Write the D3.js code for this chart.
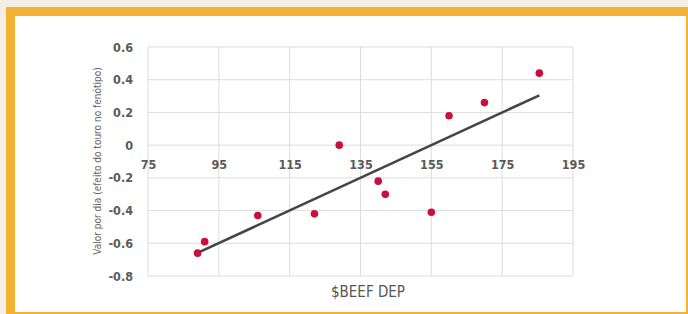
<html lang="pt">
<head>
<meta charset="utf-8">
<script src="https://d3js.org/d3.v7.min.js"></script>
<style>
  body { margin: 0; background: #f3efe7; }
  .tick text { font-family: "DejaVu Sans", sans-serif; font-stretch: condensed; font-weight: bold; font-size: 12.5px; fill: #5a5a5a; }
  .domain { display: none; }
</style>
</head>
<body>
<div id="graph"></div>
<script>

// pontos
var beefDep = [89, 91, 106, 122, 129, 140, 142, 155, 160, 170, 185.5]
var valorDia = [-0.66, -0.59, -0.43, -0.42, 0.0, -0.22, -0.30, -0.41, 0.18, 0.26, 0.44]
var xTicks = [75, 95, 115, 135, 155, 175, 195]
var yTicks = [-0.8, -0.6, -0.4, -0.2, 0, 0.2, 0.4, 0.6]

var W = 688, H = 314

var svg = d3.select('#graph').append('svg').attr('width', W).attr('height', H)

// moldura laranja
svg.append('rect').attr('x', 6).attr('y', 7).attr('width', W - 6).attr('height', H - 7).attr('fill', '#f3b233')
svg.append('rect').attr('x', 15).attr('y', 16).attr('width', 671).attr('height', 296).attr('fill', '#ffffff')

var xScale = d3.scaleLinear().domain([75, 195]).range([148, 573])
var yScale = d3.scaleLinear().domain([-0.8, 0.6]).range([276, 47])

var grid = svg.append('g')
grid.selectAll('.vline').data(xTicks).enter().append('line').attr('class', 'vline')
  .attr('x1', function(d){ return xScale(d) }).attr('x2', function(d){ return xScale(d) })
  .attr('y1', yScale(0.6)).attr('y2', yScale(-0.8))
  .attr('stroke', '#dcdcdc').attr('stroke-width', 1)
grid.selectAll('.hline').data(yTicks).enter().append('line').attr('class', 'hline')
  .attr('x1', xScale(75)).attr('x2', xScale(195))
  .attr('y1', function(d){ return yScale(d) }).attr('y2', function(d){ return yScale(d) })
  .attr('stroke', '#dcdcdc').attr('stroke-width', 1)

var xAxis = d3.axisBottom(xScale).tickValues(xTicks).tickSize(0).tickPadding(15).tickFormat(d3.format('d'))
svg.append('g').attr('transform', 'translate(0,' + yScale(0) + ')').call(xAxis)

var yAxis = d3.axisLeft(yScale).tickValues(yTicks).tickSize(0).tickPadding(15)
  .tickFormat(function(d){ return d == 0 ? '0' : d.toFixed(1) })
svg.append('g').attr('transform', 'translate(' + xScale(75) + ',0)').call(yAxis)

// linha de tendencia (minimos quadrados)
var n = beefDep.length
var mx = d3.mean(beefDep), my = d3.mean(valorDia)
var sxy = 0, sxx = 0
for (var i = 0; i < n; i++) {
  sxy = sxy + (beefDep[i] - mx) * (valorDia[i] - my)
  sxx = sxx + Math.pow(beefDep[i] - mx, 2)
}
var slope = sxy / sxx
var icpt = my - slope * mx
var x0 = d3.min(beefDep), x1 = d3.max(beefDep)

svg.append('line')
  .attr('x1', xScale(x0)).attr('y1', yScale(icpt + slope * x0))
  .attr('x2', xScale(x1)).attr('y2', yScale(icpt + slope * x1))
  .attr('stroke', '#454545').attr('stroke-width', 2.6)

svg.selectAll('.pt').data(beefDep).enter().append('circle').attr('class', 'pt')
  .attr('cx', function(d){ return xScale(d) })
  .attr('cy', function(d, i){ return yScale(valorDia[i]) })
  .attr('r', 3.8)
  .attr('fill', '#c8113a')

svg.append('text')
  .attr('transform', 'translate(101,' + 161 + ') rotate(-90)')
  .attr('text-anchor', 'middle')
  .style('font-family', '"DejaVu Sans", sans-serif').style('font-stretch', 'condensed')
  .style('font-size', '10px').style('fill', '#666')
  .text('Valor por dia (efeito do touro no fenótipo)')

svg.append('text')
  .attr('x', 368).attr('y', 297)
  .attr('text-anchor', 'middle')
  .style('font-family', '"DejaVu Sans", sans-serif').style('font-stretch', 'condensed')
  .style('font-size', '15px').style('fill', '#555')
  .text('$BEEF DEP')

</script>
</body>
</html>
